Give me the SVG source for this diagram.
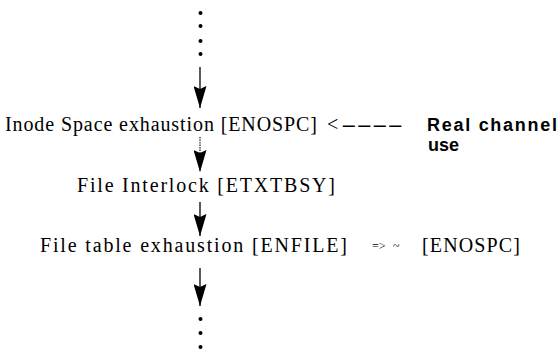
<svg xmlns="http://www.w3.org/2000/svg" width="557" height="351" viewBox="0 0 557 351">
  <style>
    .lbl { font-family: "Liberation Serif", "Times New Roman", serif; font-size: 20px; fill: #000; }
    .small { font-family: "Liberation Serif", "Times New Roman", serif; font-size: 12px; fill: #000; }
    .bold { font-family: "Liberation Sans", Arial, sans-serif; font-size: 18px; font-weight: bold; fill: #000; }
    .edge { stroke: #000; stroke-width: 1.3; fill: none; }
    .faint { stroke: #000; stroke-width: 1.1; stroke-dasharray: 1.5 1; fill: none; }
    .dot { fill: #000; }
  </style>
  <defs>
    <!-- filled arrowhead, drawn along +x so orient="auto" points it down the line -->
    <marker id="head" viewBox="0 0 22 13" refX="22" refY="6.5" markerWidth="22" markerHeight="13" markerUnits="userSpaceOnUse" orient="auto">
      <path d="M0,0 L22,6.5 L0,13 L3,6.5 Z" fill="#000"/>
    </marker>
  </defs>

  <!-- continuation dots above the chain -->
  <g id="dots-top">
    <circle class="dot" cx="200.5" cy="13" r="2"/>
    <circle class="dot" cx="200.5" cy="26" r="2"/>
    <circle class="dot" cx="200.5" cy="41" r="2"/>
    <circle class="dot" cx="200.5" cy="54" r="2"/>
  </g>

  <g id="connectors">
    <path class="edge" d="M200,67 L200,108" marker-end="url(#head)"/>
    <path class="faint" d="M200,137 L200,172" marker-end="url(#head)"/>
    <path class="edge" d="M200,202 L200,236" marker-end="url(#head)"/>
    <path class="edge" d="M200,268 L200,306" marker-end="url(#head)"/>
  </g>

  <g id="node-inode">
    <text class="lbl" x="5" y="131" textLength="312" lengthAdjust="spacing">Inode Space exhaustion [ENOSPC]</text>
    <text class="lbl" x="327" y="131">&lt;</text>
    <text class="lbl" x="341" y="131" textLength="62" lengthAdjust="spacingAndGlyphs">----</text>
  </g>

  <g id="node-real-channel">
    <text class="bold" x="427" y="131" textLength="130" lengthAdjust="spacing">Real channel</text>
    <text class="bold" x="428" y="151">use</text>
  </g>

  <g id="node-interlock">
    <text class="lbl" x="77" y="192" textLength="258" lengthAdjust="spacing">File Interlock [ETXTBSY]</text>
  </g>

  <g id="node-file-table">
    <text class="lbl" x="40" y="252" textLength="307" lengthAdjust="spacing">File table exhaustion [ENFILE]</text>
    <text class="small" x="372" y="250">=&gt;</text>
    <text class="small" x="393" y="250">~</text>
    <text class="lbl" x="422" y="252" textLength="98" lengthAdjust="spacing">[ENOSPC]</text>
  </g>

  <!-- continuation dots below the chain -->
  <g id="dots-bottom">
    <circle class="dot" cx="200.5" cy="319" r="2"/>
    <circle class="dot" cx="200.5" cy="333" r="2"/>
    <circle class="dot" cx="200.5" cy="347" r="2"/>
  </g>
</svg>
